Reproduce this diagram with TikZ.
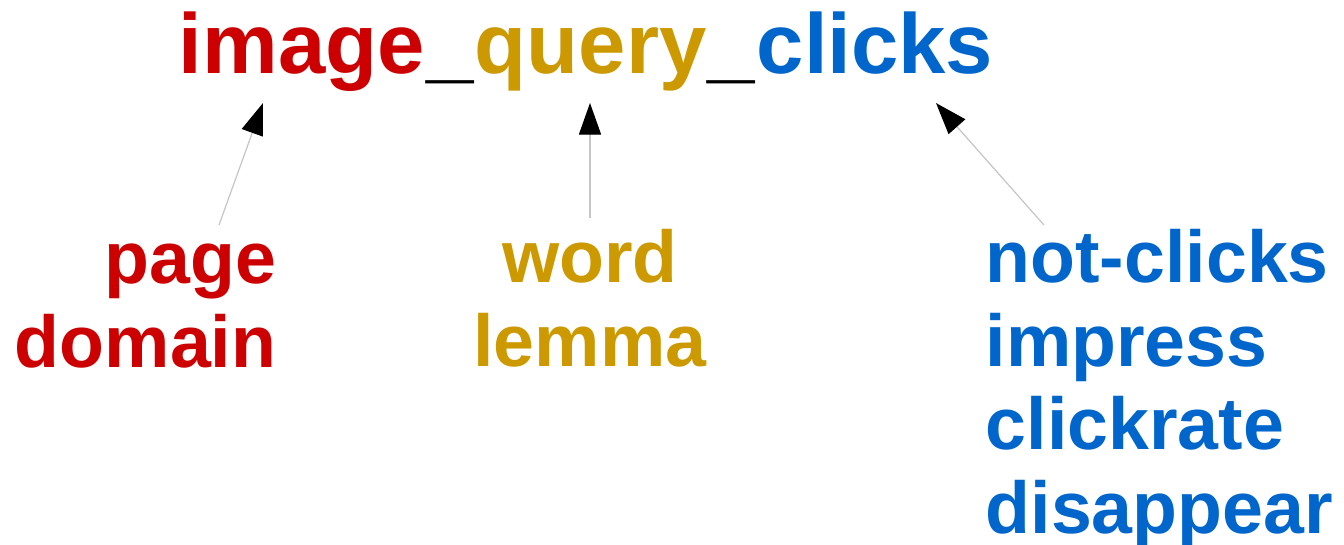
\documentclass[tikz,border=0pt]{standalone}
\usepackage{fontspec}
\setmainfont{Liberation Sans}
\usepackage{tikz}
\usetikzlibrary{positioning,arrows.meta}

\definecolor{imgred}{HTML}{CC0000}
\definecolor{qrygold}{HTML}{CC9900}
\definecolor{clkblue}{HTML}{0066CC}

\begin{document}
\begin{tikzpicture}[x=0.01cm, y=-0.01cm,
  title/.style={inner sep=0pt, font=\fontsize{24.2}{29}\selectfont\bfseries},
  feat/.style={inner sep=0pt, font=\fontsize{20.9}{23.7}\selectfont\bfseries},
  pointer/.style={draw=gray!45, line width=0.35pt, -{Triangle[length=9pt, width=6.3pt, black]}}]
\useasboundingbox (0,0) rectangle (1344,544);

% field name
\node[title, imgred, anchor=base west] (image) at (178,73) {image};
\node[title, anchor=base west] (sepa) at (image.base east) {\_};
\node[title, qrygold, anchor=base west] (query) at (sepa.base east) {query};
\node[title, anchor=base west] (sepb) at (query.base east) {\_};
\node[title, clkblue, anchor=base west] (clicks) at (sepb.base east) {clicks};

% what each part can be (base = last line)
\node[feat, imgred, align=right, anchor=base east] (page) at (277,367) {page\\domain};
\node[feat, qrygold, align=center, anchor=base] (word) at (590,366) {word\\lemma};
\node[feat, clkblue, align=left, anchor=base west] (notclicks) at (985,533) {not-clicks\\impress\\clickrate\\disappear};

\coordinate (pagetail) at (219,225);
\coordinate (imagetip) at (263,103);
\coordinate (wordtail) at (590,218);
\coordinate (querytip) at (590,103);
\coordinate (clickstail) at (1044,225);
\coordinate (clickstip) at (936,103);

\draw[pointer] (pagetail) -- (imagetip);
\draw[pointer] (wordtail) -- (querytip);
\draw[pointer] (clickstail) -- (clickstip);
\end{tikzpicture}
\end{document}
